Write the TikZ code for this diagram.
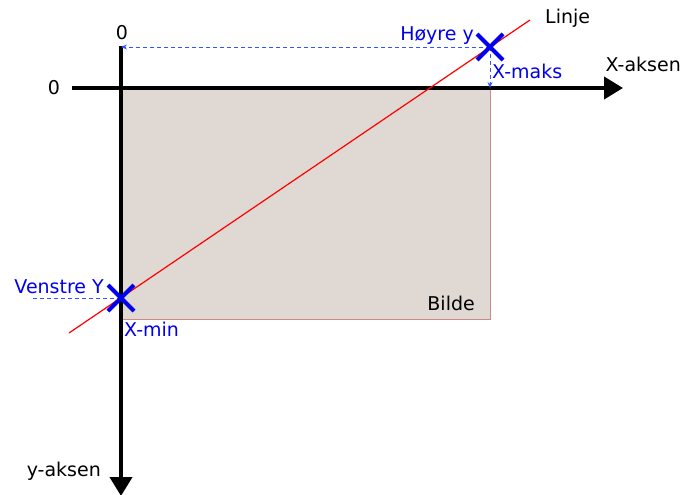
\documentclass[tikz,border=0pt]{standalone}
\usepackage{fontspec}
\setmainfont{DejaVu Sans}
\usetikzlibrary{arrows.meta,calc}
\definecolor{bildefill}{HTML}{E0D8D3}
\definecolor{bildedraw}{HTML}{D08888}
\definecolor{dashblue}{HTML}{3355FF}
\definecolor{crossblue}{HTML}{0000EE}
\tikzset{
  axis/.style={line width=4pt,-{Triangle[length=19pt,width=22pt]}},
  lbl/.style={font=\fontsize{19}{21}\selectfont,inner sep=0pt},
  bluelbl/.style={lbl,text=crossblue},
  dashline/.style={dashblue,dashed,line width=0.9pt,dash pattern=on 4pt off 3pt},
  crossmark/.style={crossblue,line width=4pt},
}
\begin{document}
\begin{tikzpicture}[x=1pt,y=-1pt]
\useasboundingbox (0,0) rectangle (683,495);
% image rectangle
\draw[bildedraw,fill=bildefill,line width=1pt] (121,88) rectangle (490,319);
\node[lbl,anchor=south east] (bilde) at (475,311) {Bilde};
% axes
\coordinate (xs) at (72,88);
\coordinate (xe) at (623,88);
\coordinate (ys) at (121,46);
\coordinate (ye) at (121,496);
\draw[axis] (xs) -- (xe);
\draw[axis] (ys) -- (ye);
% line
\coordinate (ls) at (69,333);
\coordinate (le) at (530,20);
\draw[red,line width=1.2pt] (ls) -- (le);
% crosses
\coordinate (hy) at (490,47);
\coordinate (vy) at (121,298);
\coordinate (hyx) at (490,88);
\coordinate (hyy) at (121,47);
\coordinate (vyl) at (30,298);
\draw[dashline,-{Stealth[length=6pt,width=5pt]}] (hy) -- (hyy);
\draw[dashline,-{Stealth[length=6pt,width=5pt]}] (hy) -- (hyx);
\draw[dashline] (vy) -- (vyl);
\draw[crossmark] ($(hy)+(-13,-13)$) -- ($(hy)+(13,13)$);
\draw[crossmark] ($(hy)+(-13,13)$) -- ($(hy)+(13,-13)$);
\draw[crossmark] ($(vy)+(-13,-13)$) -- ($(vy)+(13,13)$);
\draw[crossmark] ($(vy)+(-13,13)$) -- ($(vy)+(13,-13)$);
% labels
\node[lbl] (zy) at (122,33) {0};
\node[lbl] (zx) at (54,88) {0};
\node[bluelbl,anchor=east] (hoyre) at (474,36) {Høyre y};
\node[bluelbl,anchor=west] (xmaks) at (492,71) {X-maks};
\node[lbl,anchor=west] (linje) at (545,18) {Linje};
\node[lbl,anchor=east] (xaksen) at (681,64) {X-aksen};
\node[bluelbl,anchor=east] (venstre) at (104,287) {Venstre Y};
\node[bluelbl,anchor=west] (xmin) at (124,329) {X-min};
\node[lbl,anchor=east] (yaksen) at (101,471) {y-aksen};
\end{tikzpicture}
\end{document}
